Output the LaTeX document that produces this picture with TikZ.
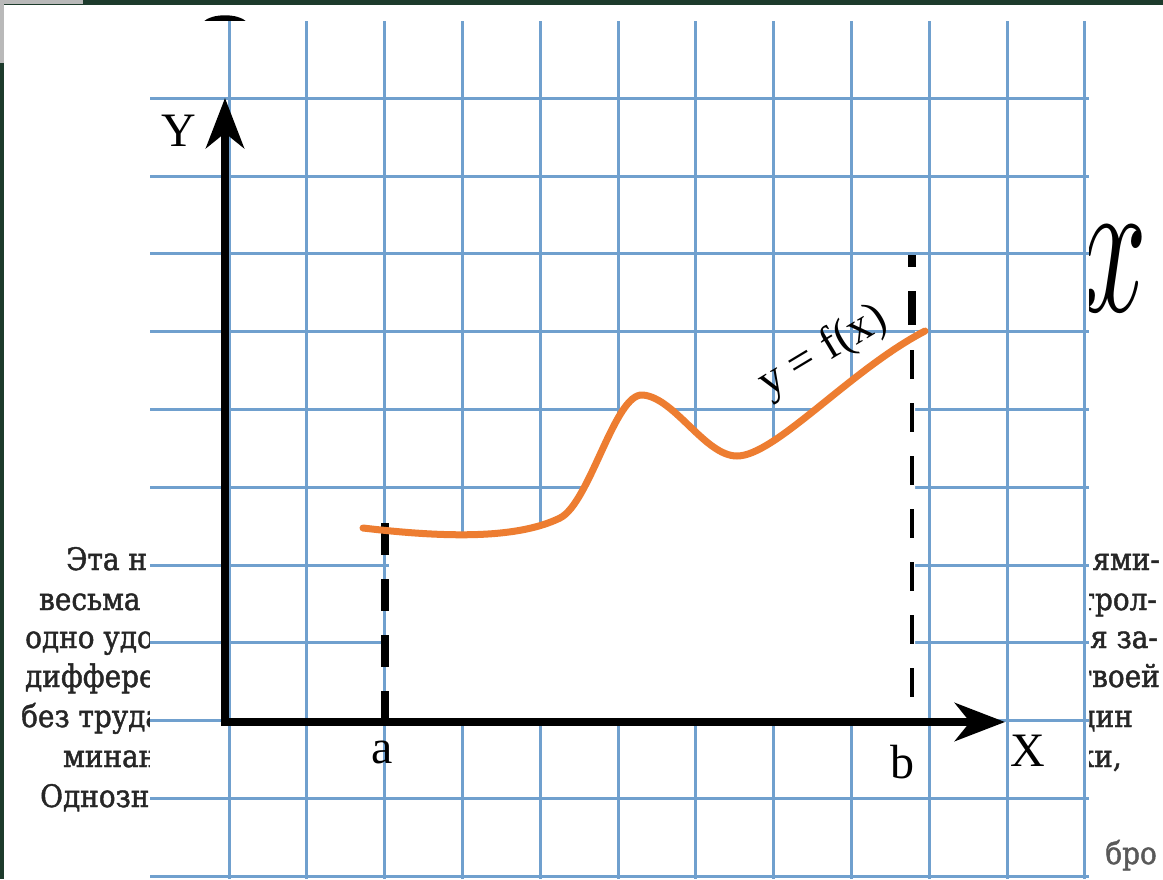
\documentclass[tikz,border=0pt]{standalone}
\usepackage{fontspec}
\setmainfont{Liberation Serif}
\newfontfamily\bgfont{DejaVu Serif}[FakeBold=1.5]
\usetikzlibrary{arrows.meta}
\definecolor{slidegreen}{HTML}{1D3B2C}
\definecolor{gridblue}{RGB}{112,160,206}
\definecolor{curveorange}{HTML}{ED7D31}
\begin{document}
\begin{tikzpicture}[x=1pt,y=-1pt,
  bgtext/.style={font=\bgfont\fontsize{31}{33}\selectfont, xscale=0.9, text=black!85, inner sep=0pt},
  gridline/.style={draw=gridblue, line width=3pt},
  axisline/.style={line width=8pt, line join=miter, {Stealth[length=50pt,width=38pt,inset=15pt]}-{Stealth[length=50pt,width=38pt,inset=15pt]}},
  lbl/.style={font=\fontsize{48}{50}\selectfont, inner sep=0pt},
  curvestyle/.style={draw=curveorange, line width=7pt, line cap=round},
]
\useasboundingbox (0,0) rectangle (1163,879);
% slide background
\fill[slidegreen] (0,0) rectangle (1163,879);
\fill[gray!55] (0,0) rectangle (83,4);
\fill[gray!55] (0,0) rectangle (4,63);
\fill[white] (4,5) rectangle (1163,879);
% background text (partly hidden)
\node[bgtext, anchor=base west] (t1) at (66,570) {Эта н};
\node[bgtext, anchor=base west] (t2) at (39,610) {весьма н};
\node[bgtext, anchor=base west] (t3) at (25,648) {одно удо};
\node[bgtext, anchor=base west] (t4) at (25,687) {диффере};
\node[bgtext, anchor=base west] (t5) at (21,727) {без труда};
\node[bgtext, anchor=base west] (t6) at (63,767) {минан};
\node[bgtext, anchor=base west] (t7) at (40,807) {Однозн};
\node[bgtext, anchor=base east] (r1) at (1160,570) {ями-};
\node[bgtext, anchor=base east] (r2) at (1157,610) {трол-};
\node[bgtext, anchor=base east] (r3) at (1158,648) {ия за-};
\node[bgtext, anchor=base east] (r4) at (1160,687) {твоей};
\node[bgtext, anchor=base east] (r5) at (1133,727) {дин};
\node[bgtext, anchor=base east] (r6) at (1122,767) {ки,};
\node[bgtext, anchor=base east, text=black!65] (r7) at (1157,864) {бро};
\node[inner sep=0pt, xscale=11.5, yscale=19.8] (bigx) at (1114,269) {$x$};
\fill[black] (203,22) .. controls (212,13) and (238,13) .. (247,22) -- cycle;
% grid sheet
\fill[white] (150,21) rectangle (1089,879);
\foreach \i in {0,...,11} \draw[gridline] ({229+77.8*\i},21) -- ({229+77.8*\i},879);
\foreach \i in {0,...,10} \draw[gridline] (150,{98.2+77.8*\i}) -- (1089,{98.2+77.8*\i});
% curve points
\coordinate (C0) at (363,528);
\coordinate (C1) at (560,518);
\coordinate (C2) at (643,395);
\coordinate (C3) at (737,456);
\coordinate (C4) at (925,331);
% area under curve
\fill[white] (C0) .. controls (440,537) and (515,540) .. (C1)
  .. controls (590,503) and (615,392) .. (C2)
  .. controls (675,398) and (705,456) .. (C3)
  .. controls (775,456) and (850,370) .. (C4)
  -- (915,331) -- (915,722) -- (389,722) -- (389,531) -- cycle;
% axes
\coordinate (O) at (225,722);
\coordinate (Ytip) at (225,98);
\coordinate (Xtip) at (1005,722);
\draw[axisline] (Ytip) -- (O) -- (Xtip);
% dashed verticals
\coordinate (Atop) at (385,523);
\coordinate (Abot) at (385,722);
\draw[line width=8pt, dash pattern=on 32pt off 24pt] (Atop) -- (Abot);
\coordinate (Btop) at (912,255);
\coordinate (Bm) at (912,325);
\coordinate (Bm2) at (912,350);
\coordinate (Bbot) at (912,718);
\draw[line width=8pt, dash pattern=on 12pt off 24pt on 34pt off 30pt] (Btop) -- (Bm);
\draw[line width=4.5pt, dash pattern=on 29pt off 24pt] (Bm2) -- (Bbot);
% curve
\draw[curvestyle] (C0) .. controls (440,537) and (515,540) .. (C1)
  .. controls (590,503) and (615,392) .. (C2)
  .. controls (675,398) and (705,456) .. (C3)
  .. controls (775,456) and (850,370) .. (C4);
\node[rotate=31, font=\fontsize{46}{48}\selectfont, inner sep=0pt] (fx) at (823,352) {y = f(x)};
% labels
\node[lbl] (Ylbl) at (179,131) {Y};
\node[lbl] (Xlbl) at (1028,751) {X};
\node[lbl, anchor=base] (albl) at (382,763) {a};
\node[lbl, anchor=base] (blbl) at (902,778) {b};
\end{tikzpicture}
\end{document}
